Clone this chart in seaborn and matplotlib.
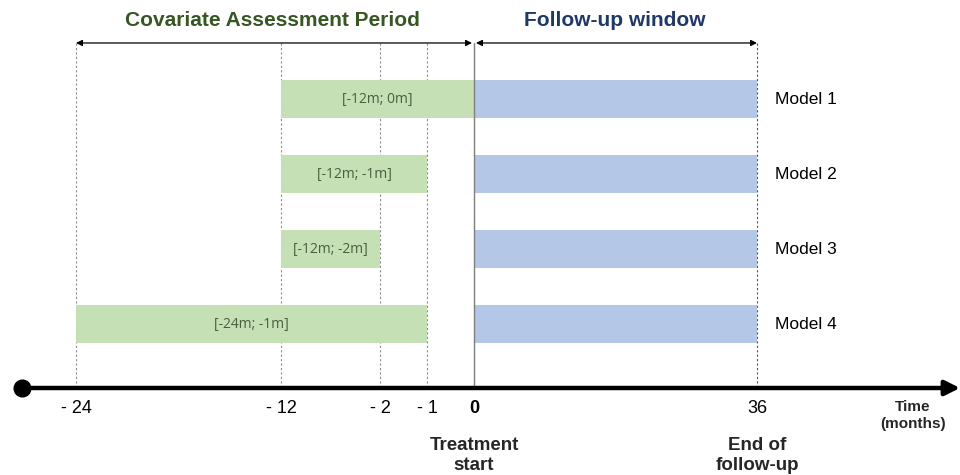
import matplotlib.pyplot as plt
import numpy as np
import seaborn as sns

# Data
models = ['Model 1', 'Model 2', 'Model 3', 'Model 4']
cov_start = [-12, -12, -12, -24]
cov_end = [0, -1, -2, -1]
cov_labels = ['[-12m; 0m]', '[-12m; -1m]', '[-12m; -2m]', '[-24m; -1m]']
fu_start = [0, 0, 0, 0]
fu_end = [36, 36, 36, 36]
tick_months = [-24, -12, -2, -1, 0, 36]
tick_labels = ['- 24', '- 12', '- 2', '- 1', '0', '36']

# schematic (non linear) time axis: months -> drawing position
knot_m = np.array([-40, -24, -12, -2, -1, 0, 36, 80])
knot_p = np.array([-197.3, 76, 281, 380, 427, 474, 757, 1102.9])


def fwd(m):
    return np.interp(m, knot_m, knot_p)


def inv(p):
    return np.interp(p, knot_p, knot_m)


sns.set_theme(style='white')
plt.rcParams['font.family'] = ['Liberation Sans', 'DejaVu Sans']

green = '#c5e0b4'
blue = '#b4c7e7'

fig = plt.figure(figsize=(9.6, 4.75), dpi=100)
ax = fig.add_axes([0, 0, 1, 1])
ax.set_xscale('function', functions=(fwd, inv))
ax.set_xlim(inv(0), inv(960))
ax.set_ylim(5.013, -1.32)
ax.axis('off')

ypos = np.arange(len(models))
axis_y = 3.853
top_y = -0.747

# guide lines
for m in tick_months:
    if m == 0:
        ax.plot([m, m], [top_y, axis_y], color='#7f7f7f', lw=1.0, zorder=3)
    elif m != 36:
        ax.plot([m, m], [top_y, axis_y], color='#8c8c8c', lw=0.8, ls=(0, (2, 2)), zorder=1)
ax.plot([36, 36], [top_y, axis_y], color='#555555', lw=0.8, ls=(0, (2, 2)), zorder=1)

# bars
ax.barh(ypos, np.array(cov_end) - np.array(cov_start), left=cov_start, height=0.5,
        color=green, linewidth=0, zorder=2)
ax.barh(ypos, np.array(fu_end) - np.array(fu_start), left=fu_start, height=0.5,
        color=blue, linewidth=0, zorder=2)

for y, s, e, lab in zip(ypos, cov_start, cov_end, cov_labels):
    mid = inv((fwd(s) + fwd(e)) / 2)
    ax.text(mid, y, lab, ha='center', va='center', fontsize=10,
            color='#4b5e40', family=['Open Sans', 'DejaVu Sans'], zorder=3)

for y, name in zip(ypos, models):
    ax.text(inv(775), y, name, ha='left', va='center', fontsize=12.5, color='black')

# top double arrows and headings
ax.annotate('', xy=(inv(472), top_y), xytext=(-24, top_y),
            arrowprops=dict(arrowstyle='<|-|>', color='black', lw=0.9,
                            mutation_scale=9, shrinkA=0, shrinkB=0))
ax.annotate('', xy=(36, top_y), xytext=(inv(476), top_y),
            arrowprops=dict(arrowstyle='<|-|>', color='black', lw=0.9,
                            mutation_scale=9, shrinkA=0, shrinkB=0))
ax.text(inv(272), -1.05, 'Covariate Assessment Period', ha='center', va='center',
        fontsize=15, fontweight='bold', color='#375623')
ax.text(inv(615), -1.05, 'Follow-up window', ha='center', va='center',
        fontsize=15, fontweight='bold', color='#1f3864')

# timeline
ax.annotate('', xy=(inv(960), axis_y), xytext=(inv(22), axis_y),
            arrowprops=dict(arrowstyle='-|>', color='black', lw=3.2,
                            mutation_scale=22, shrinkA=0, shrinkB=0))
ax.plot([inv(22)], [axis_y], 'o', color='black', markersize=12, zorder=5)

for m, lab in zip(tick_months, tick_labels):
    ax.text(m, 4.12, lab, ha='center', va='center', fontsize=13,
            fontweight='bold' if m == 0 else 'normal', color='black')

ax.text(0, 4.75, 'Treatment\nstart', ha='center', va='center', fontsize=13.5,
        fontweight='bold', linespacing=1.2)
ax.text(36, 4.75, 'End of\nfollow-up', ha='center', va='center', fontsize=13.5,
        fontweight='bold', linespacing=1.2)
ax.text(inv(913), 4.22, 'Time\n(months)', ha='center', va='center', fontsize=11,
        fontweight='bold', linespacing=1.2)

fig.savefig('out.png', dpi=100)
